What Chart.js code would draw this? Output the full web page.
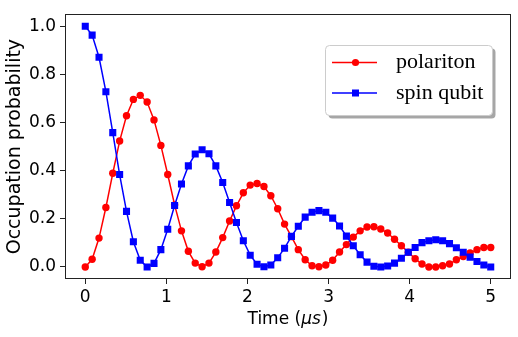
<!DOCTYPE html>
<html>
<head>
<meta charset="utf-8">
<script src="https://cdn.jsdelivr.net/npm/chart.js@4"></script>
<style>
html,body{margin:0;padding:0;background:#fff;}
#wrap{width:518px;height:337px;}
</style>
</head>
<body>
<div id="wrap"><canvas id="c" width="518" height="337"></canvas></div>
<script>
const times = [0,0.0847,0.1695,0.2542,0.3390,0.4237,0.5085,0.5932,0.6780,0.7627,
 0.8475,0.9322,1.0169,1.1017,1.1864,1.2712,1.3559,1.4407,1.5254,1.6102,
 1.6949,1.7797,1.8644,1.9492,2.0339,2.1186,2.2034,2.2881,2.3729,2.4576,
 2.5424,2.6271,2.7119,2.7966,2.8814,2.9661,3.0508,3.1356,3.2203,3.3051,
 3.3898,3.4746,3.5593,3.6441,3.7288,3.8136,3.8983,3.9831,4.0678,4.1525,
 4.2373,4.3220,4.4068,4.4915,4.5763,4.6610,4.7458,4.8305,4.9153,5.0];

const polariton = [0.0,0.032,0.120,0.247,0.389,0.523,0.628,0.696,0.713,0.685,
 0.611,0.505,0.384,0.258,0.150,0.065,0.016,0.001,0.016,0.062,
 0.122,0.191,0.254,0.308,0.340,0.347,0.334,0.296,0.242,0.178,
 0.126,0.072,0.030,0.005,0.001,0.008,0.028,0.062,0.093,0.124,
 0.150,0.166,0.167,0.158,0.141,0.115,0.088,0.061,0.034,0.012,
 0.0,0.0,0.005,0.012,0.030,0.043,0.058,0.072,0.081,0.081];

const spinQubit = [1.0,0.963,0.871,0.728,0.558,0.384,0.231,0.105,0.028,0.0,
 0.015,0.072,0.157,0.255,0.345,0.420,0.469,0.487,0.470,0.420,
 0.351,0.268,0.185,0.109,0.049,0.011,0.001,0.008,0.038,0.078,
 0.127,0.169,0.207,0.227,0.234,0.227,0.203,0.170,0.128,0.088,
 0.051,0.020,0.003,0.0,0.004,0.016,0.036,0.061,0.081,0.101,
 0.109,0.113,0.109,0.097,0.080,0.061,0.041,0.023,0.008,0.0];

const seriesNames = ['polariton', 'spin qubit'];
const xTicks = [0,1,2,3,4,5];
const yTicks = [0.0,0.2,0.4,0.6,0.8,1.0];
const xTitle = ['Time (', 'μs', ')'];
const yTitle = 'Occupation probability';

const tickFont = {family: 'DejaVu Sans', size: 17};

const framePlugin = {
  id: 'frame',
  afterDraw(chart) {
    const ctx = chart.ctx, a = chart.chartArea;
    ctx.save();
    ctx.strokeStyle = '#222';
    ctx.lineWidth = 1;
    ctx.strokeRect(Math.round(a.left) + 0.5, Math.round(a.top) + 0.5,
      Math.round(a.right - a.left) - 1, Math.round(a.bottom - a.top) - 1);
    // x title with italic unit
    ctx.fillStyle = '#000';
    ctx.textBaseline = 'alphabetic';
    const fN = '17px "DejaVu Sans"', fI = 'italic 17px "DejaVu Sans"';
    ctx.font = fN; const w0 = ctx.measureText(xTitle[0]).width;
    ctx.font = fI; const w1 = ctx.measureText(xTitle[1]).width;
    ctx.font = fN; const w2 = ctx.measureText(xTitle[2]).width;
    const cx = (a.left + a.right) / 2;
    let x = cx - (w0 + w1 + w2 + 1) / 2;
    const y = 323.5;
    ctx.textAlign = 'left';
    ctx.font = fN; ctx.fillText(xTitle[0], x, y); x += w0;
    ctx.font = fI; ctx.fillText(xTitle[1], x, y); x += w1 + 1;
    ctx.font = fN; ctx.fillText(xTitle[2], x, y);
    ctx.restore();
  }
};

function roundRect(ctx, x, y, w, h, r) {
  ctx.beginPath();
  ctx.moveTo(x + r, y);
  ctx.lineTo(x + w - r, y);
  ctx.quadraticCurveTo(x + w, y, x + w, y + r);
  ctx.lineTo(x + w, y + h - r);
  ctx.quadraticCurveTo(x + w, y + h, x + w - r, y + h);
  ctx.lineTo(x + r, y + h);
  ctx.quadraticCurveTo(x, y + h, x, y + h - r);
  ctx.lineTo(x, y + r);
  ctx.quadraticCurveTo(x, y, x + r, y);
  ctx.closePath();
}

const legendPlugin = {
  id: 'mplLegend',
  afterDraw(chart) {
    const ctx = chart.ctx;
    const bx = 325.5, by = 45.5, bw = 167, bh = 70;
    ctx.save();
    // shadow
    ctx.fillStyle = 'rgba(0,0,0,0.35)';
    roundRect(ctx, bx + 3, by + 3, bw, bh, 4);
    ctx.fill();
    ctx.fillStyle = '#fff';
    roundRect(ctx, bx, by, bw, bh, 4);
    ctx.fill();
    ctx.strokeStyle = '#cccccc';
    ctx.lineWidth = 1;
    ctx.stroke();
    const rows = [62.5, 93];
    const metas = [chart.data.datasets[1], chart.data.datasets[0]];
    metas.forEach((ds, i) => {
      const yy = rows[i];
      ctx.strokeStyle = ds.borderColor;
      ctx.lineWidth = 1.5;
      ctx.beginPath(); ctx.moveTo(332, yy); ctx.lineTo(377, yy); ctx.stroke();
      ctx.fillStyle = ds.backgroundColor;
      if (ds.pointStyle === 'rect') {
        ctx.fillRect(355.5 - 3.5, yy - 3.5, 7, 7);
      } else {
        ctx.beginPath(); ctx.arc(355.5, yy, 3.6, 0, Math.PI * 2); ctx.fill();
      }
      ctx.fillStyle = '#000';
      ctx.font = '22px "Liberation Serif"';
      ctx.textAlign = 'left';
      ctx.textBaseline = 'middle';
      ctx.fillText(ds.label, 396, yy);
    });
    ctx.restore();
  }
};

new Chart(document.getElementById('c'), {
  type: 'line',
  data: {
    labels: times,
    datasets: [
      {
        label: seriesNames[1],
        data: times.map((t, i) => ({x: t, y: spinQubit[i]})),
        borderColor: '#0000ff', backgroundColor: '#0000ff',
        pointStyle: 'rect', pointRadius: 5, pointHoverRadius: 5,
        borderWidth: 1.5, pointBorderWidth: 0, tension: 0, order: 0
      },
      {
        label: seriesNames[0],
        data: times.map((t, i) => ({x: t, y: polariton[i]})),
        borderColor: '#ff0000', backgroundColor: '#ff0000',
        pointStyle: 'circle', pointRadius: 3.7, pointHoverRadius: 3.7,
        borderWidth: 1.5, pointBorderWidth: 0, tension: 0, order: 1
      }
    ]
  },
  options: {
    responsive: false,
    animation: false,
    devicePixelRatio: 1,
    layout: {padding: {top: 7, right: 7, left: 0, bottom: 0}},
    plugins: {legend: {display: false}, tooltip: {enabled: false}},
    scales: {
      x: {
        type: 'linear', min: -0.25, max: 5.25,
        afterBuildTicks: s => { s.ticks = xTicks.map(v => ({value: v})); },
        afterFit: s => { s.height = 58; },
        border: {display: false},
        grid: {drawOnChartArea: false, drawTicks: true, tickLength: 5, color: '#222', lineWidth: 1},
        ticks: {font: tickFont, color: '#000', padding: 3, maxRotation: 0, autoSkip: false,
          callback: v => String(v)}
      },
      y: {
        type: 'linear', min: -0.05, max: 1.05,
        afterBuildTicks: s => { s.ticks = yTicks.map(v => ({value: v})); },
        afterFit: s => { s.width = 65; },
        border: {display: false},
        grid: {drawOnChartArea: false, drawTicks: true, tickLength: 5, color: '#222', lineWidth: 1},
        ticks: {font: tickFont, color: '#000', padding: 4, autoSkip: false,
          callback: v => Number(v).toFixed(1)},
        title: {display: true, text: yTitle, font: {family: 'DejaVu Sans', size: 19}, color: '#000', padding: {top: 4, bottom: 0}}
      }
    }
  },
  plugins: [framePlugin, legendPlugin]
});
</script>
</body>
</html>
